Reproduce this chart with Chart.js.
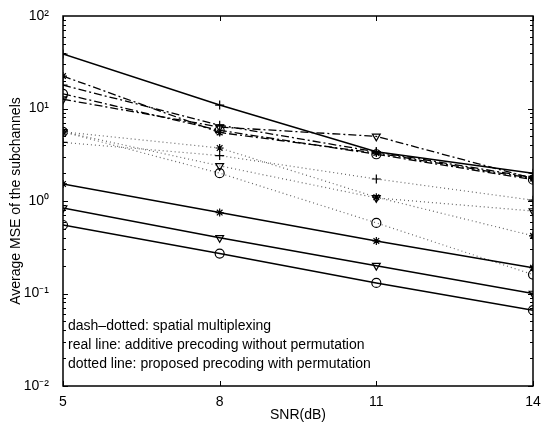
<!DOCTYPE html>
<html>
<head>
<meta charset="utf-8">
<script src="https://cdn.jsdelivr.net/npm/chart.js@4"></script>
<style>
  body { margin: 0; background: #fff; }
  #wrap { width: 547px; height: 428px; }
</style>
</head>
<body>
<div id="wrap"><canvas id="myChart" width="547" height="428"></canvas></div>
<script>
// x values (SNR in dB)
const snr = [5, 8, 11, 14];
const yTicks = [0.01, 0.1, 1, 10, 100];
const yTickLabels = ['10\u207B\u00B2', '10\u207B\u00B9', '10\u2070', '10\u00B9', '10\u00B2'];

// real line: additive precoding without permutation
const realPlus = [38.8, 10.9, 3.4, 2.0];
const realStar = [1.53, 0.75, 0.37, 0.19];
const realTri = [0.84, 0.40, 0.20, 0.10];
const realCircle = [0.55, 0.27, 0.13, 0.066];

// dash-dotted: spatial multiplexing
const ddStar = [22.4, 5.5, 3.3, 1.75];
const ddPlus = [17.9, 6.6, 3.4, 1.8];
const ddCircle = [14.4, 5.8, 3.2, 1.7];
const ddTri = [12.6, 6.3, 5.0, 1.75];

// dotted: proposed precoding with permutation
const dotPlus = [4.3, 3.1, 1.73, 1.02];
const dotStar = [5.6, 3.74, 1.1, 0.42];
const dotTri = [5.6, 2.4, 1.08, 0.78];
const dotCircle = [5.6, 2.0, 0.58, 0.16];

const notes = [
  'dash\u2013dotted: spatial multiplexing',
  'real line: additive precoding without permutation',
  'dotted line: proposed precoding with permutation'
];

const FONT = '"Liberation Sans", Arial, Helvetica, sans-serif';

function pts(vals) {
  return vals.map((v, i) => ({x: snr[i], y: v}));
}

function series(vals, kind, marker) {
  let ds = {
    data: pts(vals),
    borderColor: '#000',
    backgroundColor: '#fff',
    pointBorderColor: '#000',
    pointBackgroundColor: 'rgba(255,255,255,0)',
    pointBorderWidth: 1.2,
    pointRadius: 4.5,
    pointStyle: marker,
    tension: 0,
    fill: false
  };
  if (marker === 'triangle') ds.pointRotation = 180;
  if (marker === 'star') ds.pointRadius = 4;
  if (kind === 'real') {
    ds.borderWidth = 1.5;
  } else if (kind === 'dd') {
    ds.borderWidth = 1.3;
    ds.borderDash = [8, 3, 2, 3];
  } else {
    ds.borderWidth = 1.2;
    ds.borderColor = '#666';
    ds.borderDash = [1, 3];
  }
  return ds;
}

// box, inner tick marks and the text notes
const framePlugin = {
  id: 'frame',
  afterDatasetsDraw(chart) {
    const ctx = chart.ctx;
    const a = chart.chartArea;
    const ys = chart.scales.y;
    const xs = chart.scales.x;
    ctx.save();
    ctx.strokeStyle = '#000';
    ctx.lineWidth = 1.5;
    ctx.strokeRect(a.left, a.top, a.right - a.left, a.bottom - a.top);
    ctx.lineWidth = 1;
    ctx.beginPath();
    for (let e = -2; e < 2; e++) {
      for (let k = 1; k <= 9; k++) {
        const py = Math.round(ys.getPixelForValue(k * Math.pow(10, e))) + 0.5;
        const len = k === 1 ? 5 : 3;
        ctx.moveTo(a.left, py); ctx.lineTo(a.left + len, py);
        ctx.moveTo(a.right, py); ctx.lineTo(a.right - len, py);
      }
    }
    snr.forEach(v => {
      const px = Math.round(xs.getPixelForValue(v)) + 0.5;
      ctx.moveTo(px, a.bottom); ctx.lineTo(px, a.bottom - 5);
      ctx.moveTo(px, a.top); ctx.lineTo(px, a.top + 5);
    });
    ctx.stroke();
    ctx.fillStyle = '#000';
    ctx.font = '14px ' + FONT;
    ctx.textBaseline = 'middle';
    notes.forEach((t, i) => {
      ctx.fillText(t, a.left + 5, a.bottom - 60 + i * 19);
    });
    ctx.restore();
  }
};

const config = {
  type: 'line',
  data: {
    datasets: [
      series(realPlus, 'real', 'cross'),
      series(realStar, 'real', 'star'),
      series(realTri, 'real', 'triangle'),
      series(realCircle, 'real', 'circle'),
      series(ddStar, 'dd', 'star'),
      series(ddPlus, 'dd', 'cross'),
      series(ddCircle, 'dd', 'circle'),
      series(ddTri, 'dd', 'triangle'),
      series(dotPlus, 'dot', 'cross'),
      series(dotStar, 'dot', 'star'),
      series(dotTri, 'dot', 'triangle'),
      series(dotCircle, 'dot', 'circle')
    ]
  },
  options: {
    responsive: false,
    animation: false,
    layout: { padding: { top: 16, right: 14, left: 4, bottom: 0 } },
    plugins: {
      legend: { display: false },
      tooltip: { enabled: false }
    },
    scales: {
      x: {
        type: 'linear',
        min: 5,
        max: 14,
        afterBuildTicks: s => { s.ticks = snr.map(v => ({value: v})); },
        afterFit: s => { s.height = 42; },
        grid: { display: false },
        border: { display: false },
        ticks: { color: '#000', font: { family: FONT, size: 14 }, padding: 0, maxRotation: 0 },
        title: { display: true, text: 'SNR(dB)', color: '#000', font: { family: FONT, size: 14 }, padding: { top: 1 } }
      },
      y: {
        type: 'logarithmic',
        min: 0.01,
        max: 100,
        afterBuildTicks: s => { s.ticks = yTicks.map(v => ({value: v})); },
        afterFit: s => { s.width = 59; },
        grid: { display: false },
        border: { display: false },
        ticks: {
          color: '#000',
          font: { family: FONT, size: 14 },
          padding: 6,
          callback: (v) => yTickLabels[yTicks.indexOf(v)] || ''
        },
        title: { display: true, text: 'Average MSE of the subchannels', color: '#000', font: { family: FONT, size: 14 }, padding: { bottom: 0 } }
      }
    }
  },
  plugins: [framePlugin]
};

new Chart(document.getElementById('myChart'), config);
</script>
</body>
</html>
